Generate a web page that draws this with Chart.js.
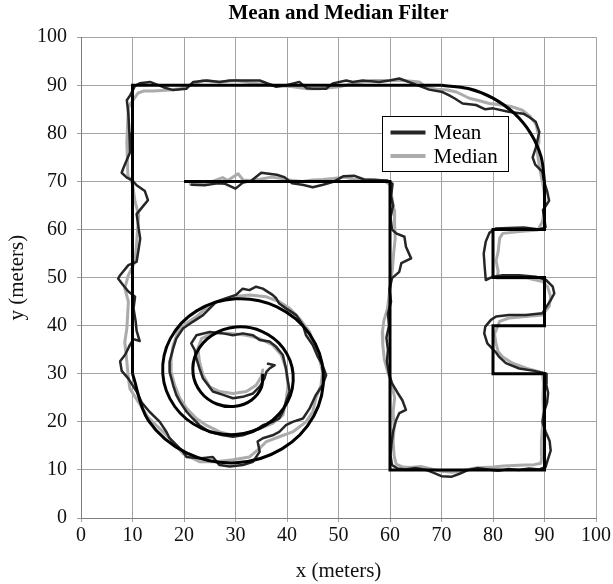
<!DOCTYPE html>
<html>
<head>
<meta charset="utf-8">
<script src="https://cdn.jsdelivr.net/npm/chart.js@4/dist/chart.umd.min.js"></script>
<style>
  html, body { margin: 0; padding: 0; background: #ffffff; }
  #wrap { width: 613px; height: 584px; }
</style>
</head>
<body>
<div id="wrap"><canvas id="c" width="613" height="584"></canvas></div>
<script>
// Axis ticks (meters)
const axisTicks = [0, 10, 20, 30, 40, 50, 60, 70, 80, 90, 100];

// Planned route: straight legs
const routeLegs = [[20,70],[60,70],[60,10],[90,10],[90,30],[80,30],[80,40],[90,40],[90,50],[80,50],[80,60],[90,60],[90,70]];
// Planned route: rounded corner, upper right
const routeCorner = [[90,70],[89.32,75.18],[87.32,80],[84.14,84.14],[80,87.32],[75.18,89.32],[70,90]];
// Planned route: top leg and left side
const routeTop = [[70,90],[10,90],[10,30]];
// Planned route: spiral
const routeSpiral = [
  [10,30],[13.10,20.24],[20.49,13.53],[30,11.47],[39.02,14.38],[45.20,21.23],[47.06,30],
  [44.35,38.29],[38.04,43.93],[30,45.59],[22.45,43.08],[17.35,37.31],[15.88,30],[18.20,23.19],
  [23.43,18.62],[30,17.35],[36.08,19.47],[40.11,24.17],[41.18,30],[39.26,35.35],[35.10,38.83],
  [30,39.71],[25.39,37.98],[22.44,34.37],[21.76,30],[23.29,26.13],[26.37,23.71],[30,23.23],
  [33.14,24.56],[35.01,27.10],[35.3,30]
];

// Mean-filtered position estimates
const meanTrace = [
  [21.5,69.3],[24,69.2],[26.5,69.6],[28,69.5],[30,68.5],[31.5,69.8],[33,70.1],[35,71.8],[38,71.4],[39.5,70.9],
  [41,69.6],[43,69.3],[45,68.8],[47,69.3],[49,69.9],[51,71.1],[53,71.2],[55,70.4],[57,70.3],[59.5,70.2],[60.5,69.5],
  [60.2,67],[60.6,65],[60.1,62.5],[60.4,60],[61.2,59.2],[62.8,58.5],[63.1,56.4],[64.1,54],[62.2,53],[61.8,51.2],
  [60.4,49.9],[59.9,47.5],[60.2,45],[59.6,42.5],[59.8,40],[59.3,37.5],[59.6,35],[59.4,32.5],[59.8,30],[60.4,28],
  [61.5,26],[62.4,24.5],[63.1,22.5],[61.8,21.8],[61.2,20.4],[60.6,18],[60.3,15.5],[60.1,13],[60.4,11],[61.5,10.3],
  [63,10.1],[65,10.4],[67,10.0],[68.5,9.4],[70,8.7],[72,8.6],[73.5,9.2],[75,9.9],[77,10.4],[79,10.1],[81,9.8],
  [83,10.2],[85,10.0],[87,10.3],[89,10.1],[90.2,10.6],
  [90.6,12],[91.2,14],[91.0,16],[90.2,18],[89.6,20],[89.9,22],[90.5,24],[90.7,26],[90.3,28],[90.4,30],
  [88,30.6],[85.1,31.1],[82.5,32.2],[81.2,33.5],[80.6,34.4],[78.9,36.3],[78.3,38.4],[78.5,39.8],[79.6,41.2],
  [80.6,41.9],[83.1,42.2],[86.4,42.2],[89.6,42.6],[91.2,45.3],[91.9,46.7],[91.6,48.1],[90.3,49.5],[88.3,50.2],
  [85.1,50.5],[81.9,50.5],[80,50.2],[78.6,49.5],[78.4,52],[78.2,55],[78.6,57.5],[79.3,59.3],[80.5,60.2],[83,60.3],
  [86,60.4],[89,60.0],[90.2,60.5],
  [90.0,62],[89.7,64],[90.9,66],[90.5,68],[89.9,70],[89.6,72],
  [88.2,73.5],[87.7,75],[88.3,77],[89.0,80.3],[88.3,82.4],[87,83.4],[85.9,84.1],[83,84.5],[80,85.2],[78.5,85.0],
  [76.7,85.9],[74.1,86.2],[72.5,87.3],[71.5,87.9],[70.2,88.6],
  [67.6,89.1],[64.4,90.4],[61.8,91.4],[59.9,91.0],[57.9,90.7],[54.7,91.0],[52.8,90.7],[51.5,91.0],[48.9,90.4],
  [47.6,89.3],[45.1,89.3],[43.8,89.4],[42.4,90.7],[39.9,90.0],[37.9,89.7],[34.7,91.0],[32.1,91.0],[28.9,91.0],
  [26.9,90.7],[24.4,91.0],[21.8,90.7],[20.5,89.3],[17.9,89.0],[16,89.6],[13.4,90.7],[11.4,90.4],[10.5,89.9],
  [9.6,88],[8.9,86.9],[9.2,84],[9.4,80],[9.5,76],[8.2,72.7],[7.9,71.8],[8.9,70.8],[10,70.2],[10.8,69.2],[12.4,68.0],
  [13.0,66.1],[11.7,64.4],[10.8,63.2],[11.2,60.2],[11.5,58.1],[11.2,56],[10.8,53.3],[9.2,52.6],[7.6,50.5],[7.2,49.8],
  [8.2,48.4],[9.2,47.1],[10.5,46],[10.2,43.6],[10.6,41],[10.8,38.9],[11.4,36.8],[10.2,37.2],[9.5,36],[8.6,34],
  [7.6,32.6],[7.9,30.6],[9.2,29],[10.8,26.3],
  [11.8,24],[13.3,22.1],[15.3,20],[16.6,17.9],[17.2,16.6],[19.8,13.8],[20.5,12.7],[23,12.4],[25.6,12.7],[26.9,11],
  [28.9,10.7],[31.4,11],[33.4,11.7],[34.7,13.8],[34.3,15.9],[35.3,16.6],[37.2,17.2],[38.5,17.9],[39.8,19.3],[41.1,20],
  [43.1,20.7],[44.4,22.8],[45.6,25.6],[46.9,27.6],[47.6,29.7],[46.9,31.8],[46,33.5],[45,36],[43.7,38],[43.1,40.1],
  [41.8,42.2],[39.8,43.6],[38.5,44.6],[37.9,45.7],[37.2,46.4],[35.3,47.7],[34,48.1],[32.7,47.4],[31.4,47.7],[30.1,46.4],
  [28.2,45.7],[26.3,45],[25,43.6],[23.7,42.2],[21.7,40.8],[19.8,39.4],[18.5,37.3],[17.9,35.3],[17.2,32.5],[17.2,30.4],
  [17.9,27.6],[18.5,25.6],[19.2,24.2],[20.5,22.1],[21.7,20.7],[23,19.3],[25,17.9],[27.6,17.2],[29.5,16.9],[31.4,17.2],
  [33.4,17.9],[35.3,19.3],[37.2,20],[38.5,20.7],[39.2,22.1],[39.8,24.2],[40.5,26.3],[40.2,28.3],[39.8,31.1],[39.2,33.9],
  [37.9,35.6],[36.6,36.7],[34.7,37],[33.4,38],[31.4,38.4],[29.5,38],[27.6,38.4],[25,38.7],[22.4,38],[21.4,36.3],
  [22.1,34.9],[22.4,33.2],[23,31.1],[23.7,29],[24.7,27.6],[25.6,26.3],[27.6,25.6],[29.5,24.9],[31.4,25.2],[33.4,25.9],
  [34.7,27.3],[35.6,29],[36,30.4],[36.6,31.1],[37.6,31.8],[36.3,32.1]
];

// Median-filtered position estimates
const medianTrace = [
  [21.2,69.4],[23,69.5],[25,69.8],[27.5,70.8],[28.5,70.2],[30.5,71.6],[31.5,70.3],[33,70.2],[35,70.5],[37,70.9],
  [39,70.6],[41,70.2],[43,70.0],[45,70.3],[47,70.4],[49,70.6],[51,70.9],[53,70.5],[55,70.3],[57,70.4],[59,70.0],[60.3,69.2],
  [60.3,67],[60.8,64],[60.9,61],[61.0,58],[60.7,55],[60.5,52],[60.1,49],[59.8,46],[59.5,43.5],[58.8,41],[58.5,38.5],
  [58.6,36],[58.9,33],[59.4,31],[60.3,28],[60.9,25],[60.6,22],[60.8,19],[60.6,16],[60.8,13],[61.2,11.2],[62.5,10.6],
  [64,10.5],[66,10.7],[68,10.2],[70,9.7],[72,9.5],[74,9.8],[76,10.3],[78,10.5],[80,10.6],[82,10.8],[84,10.9],[86,11.0],
  [88,11.1],[89.3,11.4],
  [89.5,13],[89.4,16],[89.6,19],[89.8,22],[89.7,25],[89.8,28],[89.6,30.2],
  [86.6,31.1],[83.8,32.2],[81.9,33.5],[81,34.6],[80.6,36.2],[80.3,38.3],[81.3,40.9],[83.1,41.6],[86.4,41.9],[89.6,42.2],
  [90.9,44],[91.2,46],[90.6,48.1],[89.6,49.2],[86.6,49.9],[82.7,49.9],[80.8,49.9],[81,51.3],[80.6,53.5],[81,55.4],
  [81.3,58.2],[81.9,59.2],[85.2,59.6],[88.7,59.9],[89.6,61.6],[89.9,63.7],
  [90.1,66],[89.9,68],[89.6,70],[89.2,72],[88.9,74],[88.6,76],[88.8,78],
  [88.9,79.5],[88.3,82],[87.2,83.5],[85.7,84.8],[83.5,85.6],[81,86],[79.3,86.2],[77,86.9],[75.4,87.3],[72.9,88.6],
  [71.2,89.0],[69,89.2],[67,89.6],
  [65.7,90.7],[62.5,91],[59.2,91],[56.6,91],[52.8,90.4],[50.2,89.7],[46.3,89.3],[43.8,89.3],[41.2,89.7],[37.3,90],
  [33.4,90.4],[30.2,91],[26.9,90.7],[23.7,91],[21.1,90],[19.2,89.3],[17.3,89],[14,88.8],[12.1,88.8],[11.1,88.4],
  [9.5,86],[9.2,85.2],[8.9,78.2],[9.1,71.3],[10,69.5],[10.5,65.8],[11.2,63],[10.8,57.3],[10.5,53.3],[9.2,50.5],
  [8.5,47.8],[9.2,45],[8.9,39.4],[8.5,36.6],[8.9,32.6],[9.2,29],[9.5,26.9],
  [11.5,23.5],[13,21],[14.6,19.3],[17.2,16.6],[19.8,13.4],[23,11.7],[26.3,11.7],[29.5,12.1],[32.7,12.7],[34.7,14.5],
  [36,15.9],[38.5,16.9],[41.1,17.9],[43.7,20],[45,22.1],[45.6,24.9],[46.6,27.6],[46.9,30.4],[46.3,33.2],[45.3,36],
  [44.4,38.7],[42.4,41.5],[40.5,43.6],[38.5,45],[36,46],[32.7,46.4],[29.5,46],[26.3,45],[24.3,43.6],[22.4,41.9],
  [20.5,40.5],[18.8,38.7],[17.9,36],[17.5,33.2],[17.5,30.4],[18.2,27.6],[19.2,24.9],[20.5,22.8],[22.4,20.7],[24.3,19.3],
  [26.9,17.9],[29.5,17.2],[32.1,17.6],[34.7,18.6],[37.2,19.7],[39.2,21.4],[39.8,24.2],[40.2,27.6],[39.8,31.1],[38.9,33.9],
  [37.2,36],[34.7,37.3],[32.1,38],[28.9,38.4],[25.6,38.4],[23.4,37.3],[22.7,35.3],[23,32.5],[23.7,29.7],[25,27.3],
  [26.9,26.3],[29.5,25.9],[32.1,26.3],[34,27.6],[35,29.4],[35.3,30.8]
];

const toXY = arr => arr.map(([x, y]) => ({ x, y }));
const SERIF = "'Liberation Serif', 'DejaVu Serif', 'Times New Roman', serif";

const routeStyle = {
  borderColor: '#000000', borderWidth: 3, pointRadius: 0, showLine: true,
  fill: false, borderJoinStyle: 'miter', isRoute: true
};

const datasets = [
  Object.assign({ label: 'route-legs', data: toXY(routeLegs), tension: 0 }, routeStyle),
  Object.assign({ label: 'route-corner', data: toXY(routeCorner), tension: 0.35 }, routeStyle),
  Object.assign({ label: 'route-top', data: toXY(routeTop), tension: 0 }, routeStyle),
  Object.assign({ label: 'route-spiral', data: toXY(routeSpiral), tension: 0.35 }, routeStyle),
  {
    label: 'Mean', data: toXY(meanTrace), borderColor: '#262626', borderWidth: 2.5,
    pointRadius: 0, showLine: true, tension: 0, borderJoinStyle: 'round', borderCapStyle: 'round'
  },
  {
    label: 'Median', data: toXY(medianTrace), borderColor: '#ababab', borderWidth: 3,
    pointRadius: 0, showLine: true, tension: 0, borderJoinStyle: 'round', borderCapStyle: 'round'
  }
];

// Boxed legend inside the plot area, upper right
const boxLegend = {
  id: 'boxLegend',
  afterDraw(chart) {
    const ctx = chart.ctx;
    const left = 382.5, top = 116.5, w = 126, h = 55;
    ctx.save();
    ctx.fillStyle = '#ffffff';
    ctx.fillRect(left, top, w, h);
    ctx.strokeStyle = '#000000';
    ctx.lineWidth = 1;
    ctx.strokeRect(left, top, w, h);
    const items = chart.data.datasets.filter(d => !d.isRoute);
    items.forEach((d, i) => {
      const y = top + 16 + i * 23.5;
      ctx.beginPath();
      ctx.strokeStyle = d.borderColor;
      ctx.lineWidth = 4;
      ctx.moveTo(left + 8, y);
      ctx.lineTo(left + 43, y);
      ctx.stroke();
      ctx.fillStyle = '#000000';
      ctx.font = '21px ' + SERIF;
      ctx.textBaseline = 'middle';
      ctx.textAlign = 'left';
      ctx.fillText(d.label, left + 51, y + 1);
    });
    ctx.restore();
  }
};

const axisCommon = (titleText, isY) => ({
  type: 'linear',
  min: 0, max: 100,
  afterBuildTicks: scale => { scale.ticks = axisTicks.map(v => ({ value: v })); },
  ticks: {
    color: '#111111',
    font: { family: SERIF, size: 20 },
    padding: isY ? 10 : 2,
    maxRotation: 0,
    autoSkip: false
  },
  grid: { color: '#a3a3a3', lineWidth: 1, tickLength: 4, drawTicks: true },
  border: { display: true, color: '#7d7d7d', width: 1 },
  title: {
    display: true, text: titleText, color: '#111111',
    font: { family: SERIF, size: 21 },
    padding: isY ? { top: 5, bottom: 0 } : { top: 0, bottom: 0 }
  }
});

const xAxis = axisCommon('x (meters)', false);
xAxis.afterFit = scale => { scale.height = 66; };
const yAxis = axisCommon('y (meters)', true);
yAxis.afterFit = scale => { scale.width = 81; };

new Chart(document.getElementById('c'), {
  type: 'scatter',
  data: { datasets },
  options: {
    responsive: false,
    devicePixelRatio: 1,
    animation: false,
    layout: { padding: { left: 0, right: 16, top: 0, bottom: 0 } },
    plugins: {
      legend: { display: false },
      tooltip: { enabled: false },
      title: {
        display: true,
        text: 'Mean and Median Filter',
        fullSize: false,
        color: '#000000',
        font: { family: SERIF, size: 21, weight: 'bold' },
        padding: { top: 1, bottom: 11 }
      }
    },
    scales: { x: xAxis, y: yAxis }
  },
  plugins: [boxLegend]
});
</script>
</body>
</html>
